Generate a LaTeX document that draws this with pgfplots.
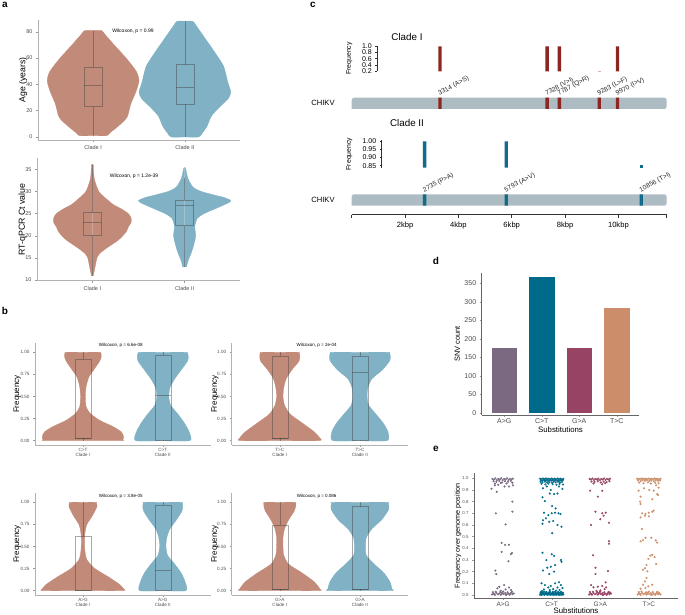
\documentclass[border=0pt]{standalone}
\usepackage{pgfplots}
\pgfplotsset{compat=1.18}
\usepackage{pgfplotstable}
\usepackage{fontspec}
\setmainfont{Liberation Sans}

\definecolor{cI}{RGB}{194,139,121}
\definecolor{cII}{RGB}{128,177,196}
\definecolor{redI}{RGB}{140,38,32}
\definecolor{blueII}{RGB}{18,106,140}
\definecolor{genome}{RGB}{173,188,194}
\definecolor{AG}{RGB}{122,105,128}
\definecolor{CT}{RGB}{0,106,138}
\definecolor{GA}{RGB}{151,67,99}
\definecolor{TC}{RGB}{204,142,106}

% violin outlines: v = value, w = half width (category units); first and last rows sit on the centre line
\pgfplotstableread{
v w
1 0
1 0.15
3 0.18
8 0.27
15 0.37
25 0.41
35 0.47
43 0.50
50 0.47
60 0.36
70 0.23
78 0.13
81 0.09
81 0
}\ageI
\pgfplotstableread{
v w
0 0
0 0.15
3 0.19
8 0.24
16 0.29
23 0.38
29 0.47
34 0.50
41 0.47
54 0.42
66 0.31
73 0.24
80 0.17
85 0.12
88 0.086
88 0
}\ageII
\pgfplotstableread{
v w
11 0
11 0.01
13 0.03
15 0.05
16 0.08
17 0.14
18 0.21
19 0.28
20 0.33
21 0.37
22 0.39
23 0.42
24 0.42
25 0.39
26 0.32
27 0.23
28 0.17
30 0.07
33 0.02
36 0.01
36 0
}\ctI
\pgfplotstableread{
v w
13 0
13 0.02
14.5 0.04
16 0.07
18 0.10
20 0.12
22 0.11
23 0.12
24 0.14
25 0.21
26 0.32
27 0.43
27.5 0.48
28 0.50
28.7 0.42
29 0.36
30 0.18
31 0.09
33 0.035
35.3 0.01
35.3 0
}\ctII
\pgfplotstableread{
v w
0 0
0 0.48
0.01 0.50
0.045 0.51
0.1 0.48
0.16 0.375
0.23 0.21
0.31 0.09
0.385 0.04
0.5 0.03
0.61 0.04
0.72 0.075
0.82 0.15
0.9 0.21
0.95 0.23
0.99 0.225
1.0 0.21
1.0 0
}\CTi
\pgfplotstableread{
v w
0 0
0 0.34
0.1 0.33
0.2 0.27
0.3 0.19
0.4 0.10
0.5 0.075
0.6 0.09
0.7 0.15
0.8 0.23
0.9 0.31
0.95 0.32
0.99 0.31
1.0 0.29
1.0 0
}\CTii
\pgfplotstableread{
v w
0 0
0 0.49
0.03 0.50
0.1 0.43
0.2 0.28
0.3 0.13
0.4 0.06
0.5 0.04
0.6 0.05
0.7 0.08
0.8 0.15
0.9 0.24
0.96 0.25
0.99 0.245
1.0 0.23
1.0 0
}\TCi
\pgfplotstableread{
v w
0 0
0 0.34
0.1 0.35
0.2 0.29
0.3 0.20
0.4 0.11
0.5 0.09
0.6 0.10
0.7 0.15
0.8 0.28
0.9 0.37
0.95 0.38
0.99 0.37
1.0 0.35
1.0 0
}\TCii
\pgfplotstableread{
v w
0 0
0 0.50
0.02 0.51
0.07 0.46
0.15 0.33
0.25 0.15
0.35 0.05
0.45 0.025
0.55 0.02
0.65 0.025
0.75 0.05
0.85 0.12
0.95 0.175
0.99 0.17
1.0 0.16
1.0 0
}\AGi
\pgfplotstableread{
v w
0 0
0 0.29
0.1 0.28
0.2 0.23
0.3 0.15
0.4 0.06
0.5 0.04
0.6 0.05
0.7 0.09
0.8 0.17
0.9 0.24
0.95 0.25
0.99 0.245
1.0 0.235
1.0 0
}\AGii
\pgfplotstableread{
v w
0 0
0 0.49
0.02 0.50
0.1 0.43
0.2 0.28
0.3 0.11
0.4 0.05
0.5 0.04
0.6 0.04
0.7 0.06
0.8 0.11
0.9 0.18
0.96 0.20
0.99 0.20
1.0 0.19
1.0 0
}\GAi
\pgfplotstableread{
v w
0 0
0 0.40
0.02 0.40
0.1 0.375
0.2 0.30
0.3 0.18
0.4 0.08
0.5 0.07
0.6 0.08
0.7 0.15
0.8 0.27
0.92 0.36
0.99 0.355
1.0 0.34
1.0 0
}\GAii

% one violin = right half and left half of the same outline
\newcommand{\violin}[3]{%
  \addplot[fill=#3, draw=#3, line width=0.3pt, smooth, tension=0.4, forget plot] table[x expr=#2+\thisrow{w}, y=v] {#1};
  \addplot[fill=#3, draw=#3, line width=0.3pt, smooth, tension=0.4, forget plot] table[x expr=#2-\thisrow{w}, y=v] {#1};
}
% box: left, centre, right, lower whisker, lower quartile, median, upper quartile, upper whisker
\newcommand{\gbox}[8]{%
  \addplot[boxst] coordinates {(#1,#5) (#3,#5) (#3,#7) (#1,#7) (#1,#5)};
  \addplot[boxst] coordinates {(#1,#6) (#3,#6)};
  \addplot[boxst] coordinates {(#2,#4) (#2,#5)};
  \addplot[boxst] coordinates {(#2,#7) (#2,#8)};
}

\tikzset{
  wil/.style={font=\fontsize{4.5}{5}\selectfont},
  mut/.style={anchor=south west, rotate=28, inner sep=0.5pt, text=black!85,
    font=\fontsize{6.6}{7}\selectfont},
}
\pgfplotsset{
  boxst/.style={draw=black!75, draw opacity=0.45, line width=0.5pt, fill=none, mark=none, forget plot},
  pts/.style={only marks, mark=*, mark size=0.85pt, color=#1,
    mark options={draw=none, fill=#1, fill opacity=0.85}},
  fmt/.style={yticklabel style={/pgf/number format/fixed, /pgf/number format/fixed zerofill,
    /pgf/number format/precision=#1}},
  gg/.style={scale only axis, anchor=south west,
    axis x line*=bottom, axis y line*=left,
    axis line style={draw=black!30, line width=0.7pt},
    tick style={draw=black!40, line width=0.4pt},
    major tick length=2pt, tick align=outside,
    ticklabel style={text=black!70},
    /pgf/number format/assume math mode=true,
    ylabel style={anchor=center},
  },
  bpan/.style={gg, width=#1, height=102pt, xmin=0.4, xmax=2.6,
    ymin=-0.049, ymax=1.105, xtick={1,2}, ytick={0,0.25,0.5,0.75,1}, fmt=2,
    ticklabel style={font=\fontsize{4.6}{5}\selectfont},
    xticklabel style={align=center, inner sep=1.5pt},
    ylabel={Frequency}, label style={font=\fontsize{8}{9}\selectfont},
  },
  gen/.style={scale only axis, anchor=south west, width=315pt, xmin=0, xmax=11812,
    ymin=0, ymax=1, hide axis, clip=false},
  frq/.style={scale only axis, anchor=south west, xmax=11812,
    axis x line=none, axis y line*=left,
    axis line style={draw=black!80, line width=0.5pt},
    tick style={draw=black!80, line width=0.5pt}, major tick length=2pt, tick align=outside,
    ticklabel style={font=\fontsize{7}{7}\selectfont},
    /pgf/number format/assume math mode=true,
    ylabel={Frequency}, ylabel style={anchor=center, font=\fontsize{6.9}{7}\selectfont},
  },
}

\begin{document}
\begin{tikzpicture}
\path[use as bounding box] (0,0) rectangle (685pt,615pt);

% ---------- panel labels
\begin{scope}[every node/.style={font=\bfseries\fontsize{10}{12}\selectfont, anchor=center, inner sep=0}]
\node at (5pt,610pt) {a};
\node at (5pt,304pt) {b};
\node at (313pt,610pt) {c};
\node at (436pt,354pt) {d};
\node at (436pt,166pt) {e};
\end{scope}

% ---------- a: age
\begin{axis}[gg, at={(38pt,475pt)}, width=202pt, height=120pt,
  xmin=0.4, xmax=2.6, ymin=-2.3, ymax=89,
  xtick={1,2}, xticklabels={Clade I,Clade II}, ytick={0,20,40,60,80},
  ticklabel style={font=\fontsize{5.5}{6}\selectfont},
  ylabel={Age (years)}, ylabel style={at={(axis description cs:-0.074,0.5)}, font=\fontsize{8.7}{10}\selectfont}]
\violin{\ageI}{1}{cI}
\violin{\ageII}{2}{cII}
\gbox{0.903}{1}{1.097}{1}{23}{39}{53}{81}
\gbox{1.903}{2}{2.097}{0}{25}{38}{55}{88}
\node[font=\fontsize{5}{6}\selectfont] at (axis description cs:0.47,0.908) {Wilcoxon, p = 0.99};
\end{axis}

% ---------- a: Ct value
\begin{axis}[gg, at={(37pt,334.3pt)}, width=203pt, height=122.4pt,
  xmin=0.4, xmax=2.6, ymin=9.85, ymax=37.5,
  xtick={1,2}, xticklabels={Clade I,Clade II}, ytick={10,15,20,25,30,35},
  ticklabel style={font=\fontsize{5.5}{6}\selectfont},
  ylabel={RT-qPCR Ct value}, ylabel style={at={(axis description cs:-0.0704,0.5)}, font=\fontsize{8.8}{10}\selectfont}]
\violin{\ctI}{1}{cI}
\violin{\ctII}{2}{cII}
\gbox{0.903}{1}{1.097}{11}{20.2}{23}{25.2}{36}
\gbox{1.903}{2}{2.097}{13}{22.3}{26.8}{28}{33}
\node[font=\fontsize{5}{6}\selectfont] at (axis description cs:0.478,0.855) {Wilcoxon, p = 1.2e-39};
\end{axis}

% ---------- b: C>T
\begin{axis}[bpan=175.7pt, at={(35pt,170pt)},
  xticklabels={{C>T\\Clade I},{C>T\\Clade II}},
  ylabel style={at={(axis description cs:-0.1007,0.5)}}]
\violin{\CTi}{1}{cI}
\violin{\CTii}{2}{cII}
\gbox{0.9}{1}{1.1}{0}{0.03}{0.03}{0.92}{1}
\gbox{1.9}{2}{2.1}{0}{0.01}{0.51}{0.97}{1}
\node[wil] at (axis description cs:0.488,0.973) {Wilcoxon, p = 6.6e-08};
\end{axis}

% ---------- b: T>C
\begin{axis}[bpan=176.3pt, at={(231.7pt,170pt)},
  xticklabels={{T>C\\Clade I},{T>C\\Clade II}},
  ylabel style={at={(axis description cs:-0.0947,0.5)}}]
\violin{\TCi}{1}{cI}
\violin{\TCii}{2}{cII}
\gbox{0.9}{1}{1.1}{0}{0.03}{0.03}{0.96}{1}
\gbox{1.9}{2}{2.1}{0}{0.01}{0.77}{0.96}{1}
\node[wil] at (axis description cs:0.482,0.973) {Wilcoxon, p = 2e-04};
\end{axis}

% ---------- b: A>G
\begin{axis}[bpan=175.7pt, at={(35pt,20pt)},
  xticklabels={{A>G\\Clade I},{A>G\\Clade II}},
  ylabel style={at={(axis description cs:-0.1007,0.5)}}]
\violin{\AGi}{1}{cI}
\violin{\AGii}{2}{cII}
\gbox{0.9}{1}{1.1}{0}{0.01}{0.01}{0.62}{1}
\gbox{1.9}{2}{2.1}{0}{0.01}{0.23}{0.97}{1}
\node[wil] at (axis description cs:0.488,0.97) {Wilcoxon, p = 3.8e-05};
\end{axis}

% ---------- b: G>A
\begin{axis}[bpan=176.3pt, at={(231.7pt,20pt)},
  xticklabels={{G>A\\Clade I},{G>A\\Clade II}},
  ylabel style={at={(axis description cs:-0.0947,0.5)}}]
\violin{\GAi}{1}{cI}
\violin{\GAii}{2}{cII}
\gbox{0.9}{1}{1.1}{0}{0.02}{0.02}{0.74}{1}
\gbox{1.9}{2}{2.1}{0}{0.02}{0.02}{0.95}{1}
\node[wil] at (axis description cs:0.482,0.97) {Wilcoxon, p = 0.086};
\end{axis}

% ---------- c: Clade I
\node[font=\fontsize{9.8}{11}\selectfont, anchor=center] at (407pt,578pt) {Clade I};
\node[font=\fontsize{7.6}{9}\selectfont, anchor=center] at (323pt,511.7pt) {CHIKV};
\begin{axis}[frq, at={(377.3pt,543.7pt)}, width=289.4pt, height=25.6pt,
  xmin=960, ymin=0.19, ymax=1.02, ytick={0.2,0.4,0.6,0.8,1}, fmt=1,
  ylabel style={at={(axis description cs:-0.0968,0.5)}}]
\addplot[ybar, bar width=3.3pt, bar shift=0pt, fill=redI, draw=none] coordinates {(3314,1) (7328,1) (7787,1) (9970,1)};
\addplot[ybar, bar width=3.3pt, bar shift=0pt, fill=redI!35, draw=none] coordinates {(9283,0.215)};
\end{axis}
\begin{axis}[gen, at={(351.7pt,506pt)}, height=11.3pt]
\addplot[fill=genome, draw=none, rounded corners=2.5pt] coordinates {(0,0) (11812,0) (11812,1) (0,1) (0,0)};
\addplot[ybar, bar width=3.3pt, bar shift=0pt, fill=redI, draw=none] coordinates {(3314,1) (7328,1) (7787,1) (9283,1) (9970,1)};
\node[mut] at (axis cs:3314,1) {3314 (A>S)};
\node[mut] at (axis cs:7328,1) {7328 (V>I)};
\node[mut] at (axis cs:7787,1) {7787 (Q>R)};
\node[mut] at (axis cs:9283,1) {9283 (L>F)};
\node[mut] at (axis cs:9970,1) {9970 (I>V)};
\end{axis}

% ---------- c: Clade II
\node[font=\fontsize{9.8}{11}\selectfont, anchor=center] at (407pt,492.3pt) {Clade II};
\node[font=\fontsize{7.6}{9}\selectfont, anchor=center] at (323pt,415pt) {CHIKV};
\begin{axis}[frq, at={(381.7pt,447.3pt)}, width=285pt, height=27.4pt,
  xmin=1125, ymin=0.838, ymax=1.006, ytick={0.85,0.9,0.95,1}, fmt=2,
  ylabel style={at={(axis description cs:-0.1137,0.5)}}]
\addplot[ybar, bar width=3.3pt, bar shift=0pt, fill=blueII, draw=none] coordinates {(2735,1) (5793,1)};
\addplot[ybar, bar width=3.3pt, bar shift=0pt, fill=blueII, draw=none] coordinates {(10856,0.853)};
\end{axis}
\begin{axis}[gen, at={(351.7pt,409.3pt)}, height=11.4pt]
\addplot[fill=genome, draw=none, rounded corners=2.5pt] coordinates {(0,0) (11812,0) (11812,1) (0,1) (0,0)};
\addplot[ybar, bar width=3.3pt, bar shift=0pt, fill=blueII, draw=none] coordinates {(2735,1) (5793,1) (10856,1)};
\node[mut] at (axis cs:2735,1) {2735 (P>A)};
\node[mut] at (axis cs:5793,1) {5793 (A>V)};
\node[mut] at (axis cs:10856,1) {10856 (T>I)};
\end{axis}

% ---------- c: genome axis
\begin{axis}[scale only axis, anchor=south west, at={(351.7pt,400.3pt)}, width=315pt, height=1pt,
  xmin=0, xmax=11812, ymin=0, ymax=1, axis x line*=bottom, axis y line=none,
  axis line style={draw=black!80, line width=0.5pt},
  tick style={draw=black!80, line width=0.5pt}, major tick length=3.3pt, tick align=outside,
  scaled x ticks=false,
  xtick={0,2000,4000,6000,8000,10000,11812},
  xticklabels={,2kbp,4kbp,6kbp,8kbp,10kbp,},
  ticklabel style={font=\fontsize{7.6}{8}\selectfont}]
\addplot[draw=none, forget plot] coordinates {(0,0) (11812,1)};
\end{axis}

% ---------- d: SNV counts
\begin{axis}[gg, at={(481.7pt,200pt)}, width=157.6pt, height=141.7pt,
  axis line style={draw=black!60, line width=0.7pt},
  xmin=0.4, xmax=4.6, ymin=-6.2, ymax=377,
  xtick={1,2,3,4}, xticklabels={A>G,C>T,G>A,T>C}, ytick={0,50,100,150,200,250,300,350},
  ticklabel style={font=\fontsize{7}{8}\selectfont},
  xticklabel style={inner sep=1pt},
  ylabel={SNV count}, ylabel style={at={(axis description cs:-0.1548,0.5)}, font=\fontsize{7.4}{8}\selectfont},
  xlabel={Substitutions}, xlabel style={at={(axis description cs:0.5,-0.103)}, anchor=center, font=\fontsize{7.8}{9}\selectfont}]
\addplot[ybar, bar width=0.71, bar shift=0pt, fill=AG, draw=white, line width=0.4pt] coordinates {(1,177)};
\addplot[ybar, bar width=0.71, bar shift=0pt, fill=CT, draw=white, line width=0.4pt] coordinates {(2,368)};
\addplot[ybar, bar width=0.71, bar shift=0pt, fill=GA, draw=white, line width=0.4pt] coordinates {(3,177)};
\addplot[ybar, bar width=0.71, bar shift=0pt, fill=TC, draw=white, line width=0.4pt] coordinates {(4,285)};
\end{axis}

% ---------- e: frequency per position
\begin{axis}[gg, at={(474pt,16.7pt)}, width=204pt, height=125pt,
  axis line style={draw=black!60, line width=0.7pt},
  xmin=0.4, xmax=4.6, ymin=-0.028, ymax=1.043,
  xtick={1,2,3,4}, xticklabels={A>G,C>T,G>A,T>C},
  ytick={0,0.1,0.2,0.3,0.4,0.5,0.6,0.7,0.8,0.9,1}, fmt=1,
  yticklabel style={font=\fontsize{4.3}{5}\selectfont},
  xticklabel style={font=\fontsize{6.5}{7}\selectfont, inner sep=1pt},
  ylabel={Frequency over genome position}, ylabel style={at={(axis description cs:-0.0784,0.5)}, font=\fontsize{7.2}{8}\selectfont},
  xlabel={Substitutions}, xlabel style={at={(axis description cs:0.5,-0.096)}, anchor=center, font=\fontsize{7.8}{9}\selectfont}]
\addplot[pts=AG] coordinates {
(0.78,0.995)(0.81,0.99)(0.84,1.0)(0.87,0.985)(0.90,0.995)(0.93,0.99)(0.96,1.0)(0.99,0.985)(1.02,0.995)(1.05,0.99)(1.08,1.0)(1.11,0.985)(1.14,0.995)(1.17,0.99)(1.20,0.998)
(0.80,0.975)(0.86,0.97)(0.92,0.978)(0.98,0.965)(1.04,0.975)(1.10,0.97)(1.16,0.978)(0.83,0.955)(0.95,0.96)(1.07,0.955)(1.19,0.962)
(0.83,0.94)(1.03,0.93)(1.2,0.94)(0.76,0.91)(0.87,0.885)(1.12,0.93)(0.9,0.945)
(1.19,0.80)(0.85,0.70)(1.19,0.714)(1.05,0.605)(0.97,0.447)(1.04,0.43)(1.12,0.43)(0.97,0.37)(1.18,0.36)(1.16,0.35)(1.11,0.29)(0.84,0.21)(0.86,0.18)
(0.92,0.07)(1.02,0.085)(1.12,0.064)(1.05,0.048)(0.95,0.037)(1.16,0.043)(0.88,0.057)
(0.77,0.004)(0.80,0.012)(0.83,0.002)(0.86,0.018)(0.89,0.006)(0.92,0.014)(0.95,0.003)(0.98,0.02)(1.01,0.008)(1.04,0.016)(1.07,0.004)(1.10,0.012)(1.13,0.002)(1.16,0.018)(1.19,0.007)(1.22,0.013)
(0.79,0.025)(0.85,0.028)(0.94,0.026)(1.00,0.03)(1.09,0.024)(1.18,0.028)(0.82,0.008)(0.97,0.01)(1.06,0.0)(1.14,0.009)
};
\addplot[pts=CT] coordinates {
(1.76,0.997)(1.79,0.992)(1.82,0.998)(1.85,0.993)(1.88,0.999)(1.91,0.994)(1.94,0.997)(1.97,0.991)(2.00,0.998)(2.03,0.993)(2.06,0.997)(2.09,0.992)(2.12,0.999)(2.15,0.994)(2.18,0.997)(2.21,0.991)(2.24,0.996)
(1.775,0.984)(1.805,0.98)(1.835,0.986)(1.865,0.981)(1.895,0.985)(1.925,0.979)(1.955,0.986)(1.985,0.982)(2.015,0.985)(2.045,0.98)(2.075,0.986)(2.105,0.981)(2.135,0.984)(2.165,0.979)(2.195,0.985)(2.225,0.982)
(1.77,0.97)(1.81,0.966)(1.86,0.972)(1.90,0.965)(1.95,0.969)(2.00,0.964)(2.04,0.971)(2.08,0.966)(2.13,0.97)(2.17,0.964)(2.21,0.969)
(1.79,0.953)(1.87,0.948)(1.93,0.955)(2.02,0.95)(2.10,0.945)(2.16,0.952)(2.23,0.947)
(1.82,0.914)(2.15,0.93)(1.98,0.90)(2.05,0.865)(1.96,0.87)(2.12,0.87)(1.81,0.837)(1.86,0.805)(2.01,0.762)(2.08,0.742)(1.84,0.705)(2.0,0.70)(2.07,0.705)(2.14,0.70)(2.18,0.694)(1.93,0.685)(1.88,0.657)(1.95,0.628)(2.03,0.634)(1.81,0.61)(1.82,0.64)(2.12,0.60)(2.2,0.585)(2.01,0.53)(1.9,0.93)(2.22,0.91)
(1.81,0.363)(2.0,0.35)(2.05,0.335)(1.89,0.30)(2.19,0.30)(2.2,0.285)(2.07,0.257)(1.98,0.243)(1.91,0.234)(1.82,0.21)(2.05,0.20)(1.95,0.18)
(1.79,0.10)(1.86,0.085)(1.98,0.077)(2.07,0.10)(2.15,0.11)(2.19,0.085)(1.93,0.065)(2.12,0.065)(2.03,0.05)(1.84,0.048)(1.96,0.043)(2.16,0.043)(2.22,0.06)(1.8,0.035)(2.09,0.038)
(1.76,0.003)(1.79,0.001)(1.82,0.005)(1.85,0.002)(1.88,0.006)(1.91,0.001)(1.94,0.004)(1.97,0.002)(2.00,0.005)(2.03,0.001)(2.06,0.004)(2.09,0.002)(2.12,0.006)(2.15,0.001)(2.18,0.004)(2.21,0.002)(2.24,0.005)
(1.775,0.011)(1.805,0.013)(1.835,0.009)(1.865,0.012)(1.895,0.01)(1.925,0.014)(1.955,0.011)(1.985,0.009)(2.015,0.013)(2.045,0.01)(2.075,0.012)(2.105,0.009)(2.135,0.013)(2.165,0.011)(2.195,0.01)(2.225,0.012)
(1.77,0.019)(1.80,0.021)(1.83,0.018)(1.87,0.02)(1.90,0.017)(1.94,0.021)(1.97,0.019)(2.01,0.018)(2.04,0.021)(2.08,0.019)(2.11,0.017)(2.14,0.02)(2.17,0.022)(2.2,0.018)(2.23,0.02)
(1.78,0.027)(1.84,0.029)(1.89,0.026)(1.96,0.03)(2.02,0.027)(2.07,0.029)(2.13,0.026)(2.19,0.028)
};
\addplot[pts=GA] coordinates {
(2.78,0.996)(2.81,0.99)(2.84,0.999)(2.87,0.986)(2.90,0.995)(2.93,0.99)(2.96,0.998)(2.99,0.985)(3.02,0.994)(3.05,0.99)(3.08,0.999)(3.11,0.986)(3.14,0.995)(3.17,0.99)(3.20,0.997)
(2.82,0.972)(2.88,0.968)(2.95,0.975)(3.01,0.965)(3.07,0.972)(3.13,0.968)(3.19,0.975)(2.86,0.955)(3.04,0.95)(3.1,0.958)
(2.79,0.894)(3.04,0.894)(2.95,0.843)(2.9,0.714)(3.04,0.70)(3.11,0.705)(3.07,0.68)(3.0,0.65)(3.18,0.62)(2.81,0.60)(3.18,0.461)(3.18,0.44)(2.85,0.34)(2.9,0.234)(3.16,0.206)(2.9,0.18)
(3.11,0.108)(2.81,0.085)(2.95,0.071)(3.04,0.077)(3.12,0.066)(2.86,0.066)(3.09,0.051)(3.0,0.04)(2.92,0.035)
(2.77,0.004)(2.80,0.013)(2.83,0.002)(2.86,0.018)(2.89,0.007)(2.92,0.014)(2.95,0.003)(2.98,0.02)(3.01,0.008)(3.04,0.016)(3.07,0.004)(3.10,0.012)(3.13,0.002)(3.16,0.018)(3.19,0.007)(3.22,0.013)
(2.79,0.026)(2.85,0.028)(2.94,0.025)(3.0,0.03)(3.08,0.024)(3.17,0.027)(2.82,0.009)(2.97,0.011)(3.05,0.0)(3.14,0.009)(3.2,0.022)
};
\addplot[pts=TC] coordinates {
(3.76,0.997)(3.79,0.991)(3.82,0.998)(3.85,0.993)(3.88,0.999)(3.91,0.992)(3.94,0.997)(3.97,0.991)(4.00,0.998)(4.03,0.993)(4.06,0.997)(4.09,0.992)(4.12,0.999)(4.15,0.994)(4.18,0.996)(4.21,0.991)(4.24,0.997)
(3.78,0.981)(3.83,0.976)(3.87,0.983)(3.92,0.978)(3.96,0.984)(4.01,0.977)(4.05,0.982)(4.10,0.976)(4.14,0.983)(4.19,0.978)(4.23,0.982)
(3.80,0.963)(3.89,0.958)(3.98,0.965)(4.04,0.955)(4.13,0.962)(4.2,0.957)
(3.79,0.894)(3.9,0.914)(4.01,0.90)(4.1,0.894)(4.17,0.865)(4.19,0.857)(3.83,0.843)(3.82,0.80)(4.07,0.82)(3.83,0.78)(3.86,0.70)(4.0,0.705)(4.07,0.714)(4.1,0.723)(3.93,0.694)(3.83,0.665)(3.92,0.68)(4.0,0.674)
(3.86,0.566)(3.88,0.469)(3.83,0.46)(3.93,0.49)(4.05,0.49)(4.14,0.469)(4.17,0.45)(4.07,0.345)(4.03,0.337)(4.12,0.325)(3.99,0.31)(4.15,0.266)(3.95,0.257)(3.92,0.23)(3.88,0.217)(3.97,0.203)
(3.95,0.146)(3.92,0.117)(3.88,0.088)(3.99,0.074)(4.07,0.088)(3.83,0.054)(3.93,0.06)(4.2,0.92)(4.15,0.94)
(3.77,0.004)(3.80,0.013)(3.83,0.002)(3.86,0.018)(3.89,0.007)(3.92,0.014)(3.95,0.003)(3.98,0.02)(4.01,0.008)(4.04,0.016)(4.07,0.004)(4.10,0.012)(4.13,0.002)(4.16,0.018)(4.19,0.007)(4.22,0.013)
(3.79,0.026)(3.85,0.03)(3.94,0.024)(4.0,0.029)(4.08,0.025)(4.17,0.027)(3.82,0.009)(3.97,0.011)(4.05,0.0)(4.14,0.009)(4.2,0.022)(4.24,0.004)
};
\end{axis}
\end{tikzpicture}
\end{document}
